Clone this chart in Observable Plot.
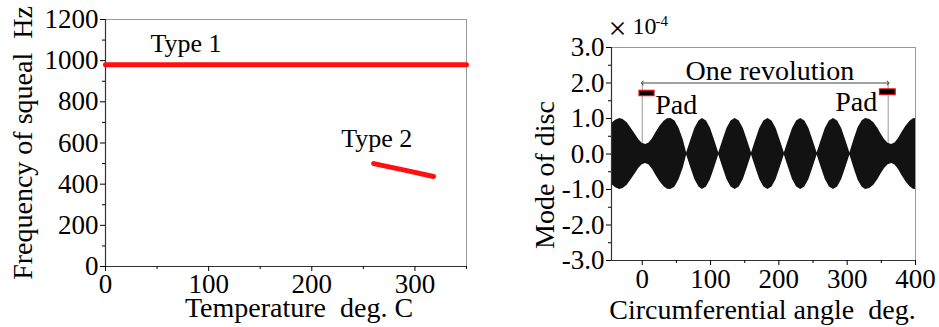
<!DOCTYPE html>
<html>
<head>
<meta charset="utf-8">
<script src="https://cdn.jsdelivr.net/npm/d3@7"></script>
<script src="https://cdn.jsdelivr.net/npm/@observablehq/plot@0.6"></script>
<style>
  html, body { margin: 0; padding: 0; background: #fff; }
  #wrap { position: relative; width: 939px; height: 327px; overflow: hidden; }
  #left { position: absolute; left: 0; top: 0; }
  #right { position: absolute; left: 470px; top: 0; }
  svg { white-space: pre; }
  svg text { font-family: 'Liberation Serif', 'Times New Roman', serif !important; font-variant-numeric: normal !important; }
</style>
</head>
<body>
<div id="wrap"><div id="left"></div><div id="right"></div></div>
<script>
// ---------- Left panel data ----------
const type1Temp = [0, 350];
const type1Freq = [980, 980];
const type2Temp = [260, 290, 318];
const type2Freq = [500, 468, 437];
const leftYMajor = [0, 200, 400, 600, 800, 1000, 1200];
const leftYMinor = [100, 300, 500, 700, 900, 1100];
const leftXMajor = [0, 100, 200, 300];
const leftXMinor = [50, 150, 250, 350];
const typeLabels = ["Type 1", "Type 2"];
const typeLabelTemp = [78, 263];
const typeLabelFreq = [1083, 622];

// ---------- Right panel data ----------
const envAngle = [-45,-39,-33,-28,-22,-16,-10,-5,0,5,10,15,20,26,32,37,42,48,54,60,65,71,77,83,88,94,100,106,112,118,124,130,136,142,148,154,160,166,172,178,184,190,196,202,208,214,220,226,232,238,244,250,256,262,268,274,280,286,292,298,304,310,316,322,327,333,339,345,350,355,360,365,370,375,380,386,392,397,400];
const envAmp = [0.85,0.95,1.00,0.97,0.88,0.72,0.55,0.40,0.30,0.27,0.31,0.43,0.60,0.78,0.92,0.99,1.00,0.93,0.72,0.40,0.03,0.38,0.72,0.93,1.00,0.93,0.72,0.38,0.03,0.38,0.72,0.93,1.00,0.93,0.72,0.38,0.03,0.38,0.72,0.93,1.00,0.93,0.72,0.38,0.03,0.38,0.72,0.93,1.00,0.93,0.72,0.38,0.03,0.38,0.72,0.93,1.00,0.93,0.72,0.38,0.03,0.40,0.74,0.94,1.00,0.97,0.88,0.72,0.55,0.40,0.30,0.27,0.31,0.43,0.60,0.78,0.92,0.99,1.00];
const rightYMajor = [-3, -2, -1, 0, 1, 2, 3];
const rightYMinor = [-2.5, -1.5, -0.5, 0.5, 1.5, 2.5];
const rightXMajor = [0, 100, 200, 300, 400];
const rightXMinor = [50, 150, 250, 350];
const revolutionStart = 0, revolutionEnd = 360, revolutionLevel = 2.0, guideBottom = 0.3;
const padX1 = [-4, 348], padX2 = [18, 371], padY1 = [1.63, 1.66], padY2 = [1.78, 1.82];
const padLabelX = [19, 344], padLabelY = [1.39, 1.45];

const FONT = "'Liberation Serif', 'Times New Roman', serif";

// ---------- Left plot ----------
const type1 = type1Temp.map((t, i) => ({t, f: type1Freq[i]}));
const type2 = type2Temp.map((t, i) => ({t, f: type2Freq[i]}));
const typeText = typeLabels.map((s, i) => ({s, t: typeLabelTemp[i], f: typeLabelFreq[i]}));

const left = Plot.plot({
  width: 470, height: 327,
  marginLeft: 105, marginRight: 4, marginTop: 19, marginBottom: 61,
  style: {fontFamily: FONT, fontSize: "27px", color: "#000", background: "#fff", overflow: "visible"},
  x: {domain: [0, 350]},
  y: {domain: [0, 1200]},
  marks: [
    Plot.frame({stroke: "#999", strokeWidth: 1}),
    Plot.ruleX([0], {stroke: "#333", strokeWidth: 1.2}),
    Plot.ruleY([0], {stroke: "#333", strokeWidth: 1.2}),
    Plot.axisY(leftYMajor, {tickSize: 5, tickPadding: 2, tickFormat: d => String(d), label: null, fontSize: 27, fontFamily: FONT}),
    Plot.axisY(leftYMinor, {tickSize: 3, tickFormat: () => "", label: null}),
    Plot.axisX(leftXMajor, {tickSize: 5, tickPadding: 2, tickFormat: d => String(d), label: null, fontSize: 27, fontFamily: FONT}),
    Plot.axisX(leftXMinor, {tickSize: 3, tickFormat: () => "", label: null}),
    Plot.line(type1, {x: "t", y: "f", stroke: "#ff1010", strokeWidth: 5}),
    Plot.line(type2, {x: "t", y: "f", stroke: "#ff1010", strokeWidth: 5}),
    Plot.text(typeText, {x: "t", y: "f", text: "s", fontSize: 26, fill: "#000", fontFamily: FONT}),
    Plot.text(["Frequency of squeal\u00a0 Hz"], {frameAnchor: "left", textAnchor: "middle", lineAnchor: "middle", rotate: -90, dx: -82, dy: 0, fontSize: 28, fill: "#000", fontFamily: FONT}),
    Plot.text(["Temperature\u00a0 deg. C"], {frameAnchor: "bottom", textAnchor: "middle", lineAnchor: "middle", dx: 13, dy: 42, fontSize: 28, fill: "#000", fontFamily: FONT})
  ]
});
document.getElementById("left").appendChild(left);

// ---------- Right plot ----------
const env = envAngle.map((a, i) => ({a, v: envAmp[i]}));
const pads = padX1.map((x1, i) => ({x1, x2: padX2[i], y1: padY1[i], y2: padY2[i]}));
const padText = padLabelX.map((x, i) => ({x, y: padLabelY[i]}));

const right = Plot.plot({
  width: 469, height: 327,
  marginLeft: 141, marginRight: 24, marginTop: 47, marginBottom: 67,
  style: {fontFamily: FONT, fontSize: "27px", color: "#000", background: "#fff", overflow: "visible"},
  x: {domain: [-45, 400]},
  y: {domain: [-3, 3]},
  marks: [
    Plot.frame({stroke: "#999", strokeWidth: 1}),
    Plot.areaY(env, {x: "a", y1: d => -d.v, y2: d => d.v, fill: "#121212"}),
    Plot.ruleX([revolutionStart, revolutionEnd], {y1: guideBottom, y2: revolutionLevel, stroke: "#999", strokeWidth: 1}),
    Plot.link([0], {x1: () => revolutionStart, x2: () => revolutionEnd, y1: () => revolutionLevel, y2: () => revolutionLevel, stroke: "#444", strokeWidth: 1, markerStart: "arrow-reverse", markerEnd: "arrow"}),
    Plot.rect(pads, {x1: "x1", x2: "x2", y1: "y1", y2: "y2", fill: "#000", stroke: "#e01010", strokeWidth: 1.2}),
    Plot.text(["One revolution"], {x: () => 187, y: () => 2.34, fontSize: 28, fill: "#000", fontFamily: FONT}),
    Plot.text(padText.slice(0, 1), {x: "x", y: "y", text: () => "Pad", textAnchor: "start", fontSize: 28, fill: "#000", fontFamily: FONT}),
    Plot.text(padText.slice(1), {x: "x", y: "y", text: () => "Pad", textAnchor: "end", fontSize: 28, fill: "#000", fontFamily: FONT}),
    Plot.ruleX([-45], {stroke: "#333", strokeWidth: 1.2}),
    Plot.ruleY([-3], {stroke: "#333", strokeWidth: 1.2}),
    Plot.axisY(rightYMajor, {tickSize: 5, tickPadding: 2, tickFormat: d => d.toFixed(1), label: null, fontSize: 27, fontFamily: FONT}),
    Plot.axisY(rightYMinor, {tickSize: 3, tickFormat: () => "", label: null}),
    Plot.axisX(rightXMajor, {tickSize: 5, tickPadding: 3, tickFormat: d => String(d), label: null, fontSize: 27, fontFamily: FONT}),
    Plot.axisX(rightXMinor, {tickSize: 3, tickFormat: () => "", label: null}),
    Plot.text(["\u00d7"], {frameAnchor: "top-left", textAnchor: "middle", lineAnchor: "middle", dx: 6, dy: -19, fontSize: 32, fill: "#000", fontFamily: FONT}),
    Plot.text(["10"], {frameAnchor: "top-left", textAnchor: "start", lineAnchor: "middle", dx: 21, dy: -21, fontSize: 24, fill: "#000", fontFamily: FONT}),
    Plot.text(["-4"], {frameAnchor: "top-left", textAnchor: "start", lineAnchor: "middle", dx: 44, dy: -26, fontSize: 15, fill: "#000", fontFamily: FONT}),
    Plot.text(["Mode of disc"], {frameAnchor: "left", textAnchor: "middle", lineAnchor: "middle", rotate: -90, dx: -66, dy: 21, fontSize: 28, fill: "#000", fontFamily: FONT}),
    Plot.text(["Circumferential angle\u00a0 deg."], {frameAnchor: "bottom", textAnchor: "middle", lineAnchor: "middle", dx: -1, dy: 50, fontSize: 28, fill: "#000", fontFamily: FONT})
  ]
});
document.getElementById("right").appendChild(right);
</script>
</body>
</html>
